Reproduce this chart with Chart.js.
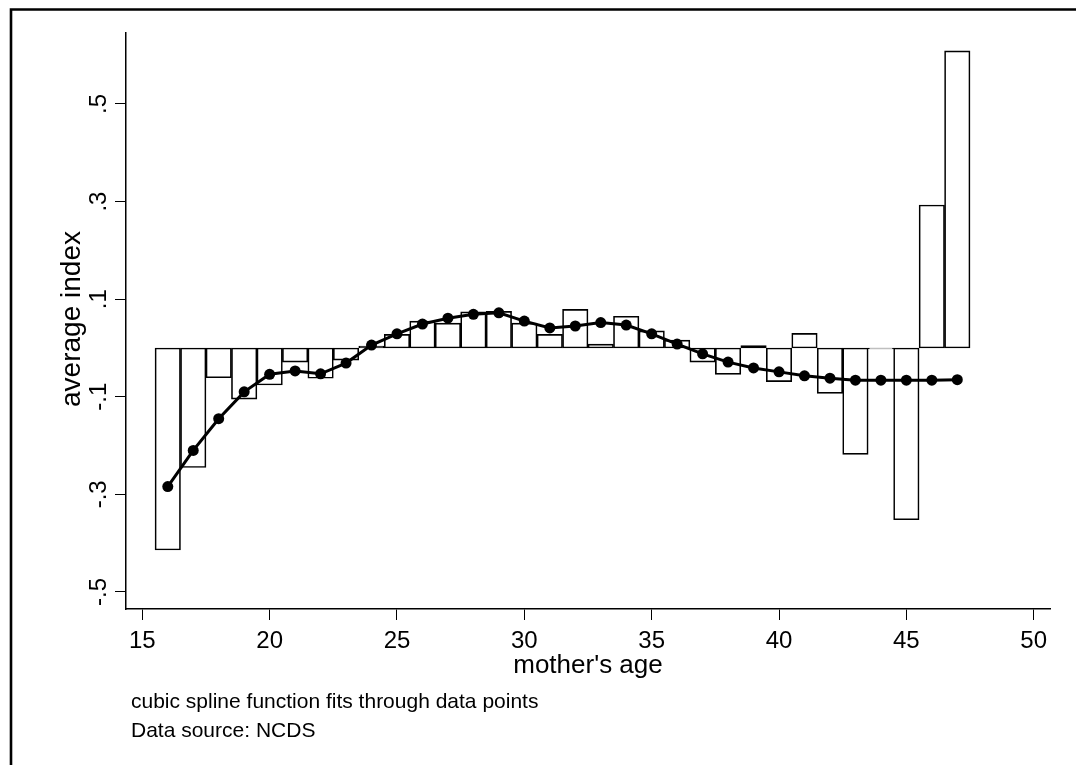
<!DOCTYPE html>
<html>
<head>
<meta charset="utf-8">
<title>average index by mother's age</title>
<script src="https://cdn.jsdelivr.net/npm/chart.js@4.4.1/dist/chart.umd.min.js"></script>
<style>
  html, body { margin: 0; padding: 0; background: #fff; }
  #wrap { position: relative; width: 1076px; height: 765px; }
</style>
</head>
<body>
<div id="wrap"><canvas id="chart" width="1076" height="765"></canvas></div>
<script>
// ================= DATA =================
const ages = [16,17,18,19,20,21,22,23,24,25,26,27,28,29,30,31,32,33,34,35,36,37,38,39,40,41,42,43,44,45,46,47];

// average index per age (bars)
const barValues = [-0.414,-0.245,-0.061,-0.105,-0.076,-0.029,-0.062,-0.025,0.004,0.028,0.055,0.051,
  0.074,0.075,0.051,0.028,0.079,0.008,0.065,0.035,0.016,-0.029,-0.054,0.005,-0.069,0.030,-0.093,
  -0.218,-0.002,-0.352,0.293,0.609];

// cubic spline fitted values (line + dots)
const splineValues = [-0.284,-0.210,-0.145,-0.090,-0.054,-0.047,-0.053,-0.031,0.006,0.029,0.049,0.061,
  0.069,0.072,0.055,0.041,0.045,0.052,0.047,0.029,0.008,-0.012,-0.029,-0.041,-0.049,-0.057,-0.062,
  -0.066,-0.066,-0.066,-0.066,-0.065];

const xTicks = [15,20,25,30,35,40,45,50];
const yTicks = [-0.5,-0.3,-0.1,0.1,0.3,0.5];
const yTickLabels = ["-.5","-.3","-.1",".1",".3",".5"];

const xTitle = "mother's age";
const yTitle = "average index";
const notes = ["cubic spline function fits through data points", "Data source: NCDS"];

const FONT = "'Liberation Sans', Arial, Helvetica, sans-serif";

// ================= TEXT / FRAME PLUGIN =================
const stataText = {
  id: "stataText",
  afterDraw(chart) {
    const ctx = chart.ctx;
    const ys = chart.scales.y;
    const area = chart.chartArea;
    ctx.save();
    ctx.fillStyle = "#000";

    // outer frame (top + left)
    ctx.strokeStyle = "#000";
    ctx.lineWidth = 2.6;
    ctx.beginPath();
    ctx.moveTo(11, 765);
    ctx.lineTo(11, 9.5);
    ctx.lineTo(1076, 9.5);
    ctx.stroke();

    // y tick labels, rotated
    ctx.font = "24px " + FONT;
    ctx.textAlign = "center";
    ctx.textBaseline = "alphabetic";
    yTicks.forEach((v, i) => {
      const py = ys.getPixelForValue(v);
      ctx.save();
      ctx.translate(106, py);
      ctx.rotate(-Math.PI / 2);
      ctx.fillText(yTickLabels[i], 0, 0);
      ctx.restore();
    });

    // y title
    ctx.font = "28px " + FONT;
    ctx.save();
    ctx.translate(80, 319);
    ctx.rotate(-Math.PI / 2);
    ctx.fillText(yTitle, 0, 0);
    ctx.restore();

    // x title
    ctx.font = "26px " + FONT;
    ctx.fillText(xTitle, (area.left + area.right) / 2, 673);

    // notes
    ctx.font = "21px " + FONT;
    ctx.textAlign = "left";
    ctx.fillText(notes[0], 131, 708);
    ctx.fillText(notes[1], 131, 737);
    ctx.restore();
  }
};

// ================= CHART =================
new Chart(document.getElementById("chart"), {
  type: "bar",
  data: {
    datasets: [
      {
        type: "line",
        label: "spline",
        data: ages.map((a, i) => ({ x: a, y: splineValues[i] })),
        borderColor: "#000",
        borderWidth: 3,
        pointRadius: 5.5,
        pointBorderWidth: 0,
        pointBackgroundColor: "#000",
        tension: 0,
        fill: false,
        order: 0
      },
      {
        type: "bar",
        label: "average index",
        data: ages.map((a, i) => ({ x: a, y: barValues[i] })),
        backgroundColor: "rgba(255,255,255,0)",
        borderColor: "#000",
        borderWidth: 1,
        borderSkipped: false,
        barPercentage: 1,
        categoryPercentage: 1,
        order: 1
      }
    ]
  },
  options: {
    responsive: false,
    animation: false,
    devicePixelRatio: 1,
    layout: { padding: { top: 33, right: 26, left: 0, bottom: 0 } },
    plugins: { legend: { display: false }, tooltip: { enabled: false } },
    scales: {
      x: {
        type: "linear",
        offset: false,
        min: 14.36,
        max: 50.64,
        afterBuildTicks: s => { s.ticks = xTicks.map(v => ({ value: v })); },
        afterFit: s => { s.height = 156; },
        grid: { offset: false, drawOnChartArea: false, drawTicks: true, tickLength: 11, color: "#000", lineWidth: 1 },
        border: { display: true, color: "#000", width: 1.5 },
        ticks: { color: "#000", font: { family: FONT, size: 24 }, padding: 7, maxRotation: 0, autoSkip: false }
      },
      y: {
        type: "linear",
        min: -0.535,
        max: 0.6455,
        afterBuildTicks: s => { s.ticks = yTicks.map(v => ({ value: v })); },
        afterFit: s => { s.width = 126; },
        grid: { drawOnChartArea: false, drawTicks: true, tickLength: 11, color: "#000", lineWidth: 1 },
        border: { display: true, color: "#000", width: 1.5 },
        ticks: { display: false }
      }
    }
  },
  plugins: [stataText]
});
</script>
</body>
</html>
